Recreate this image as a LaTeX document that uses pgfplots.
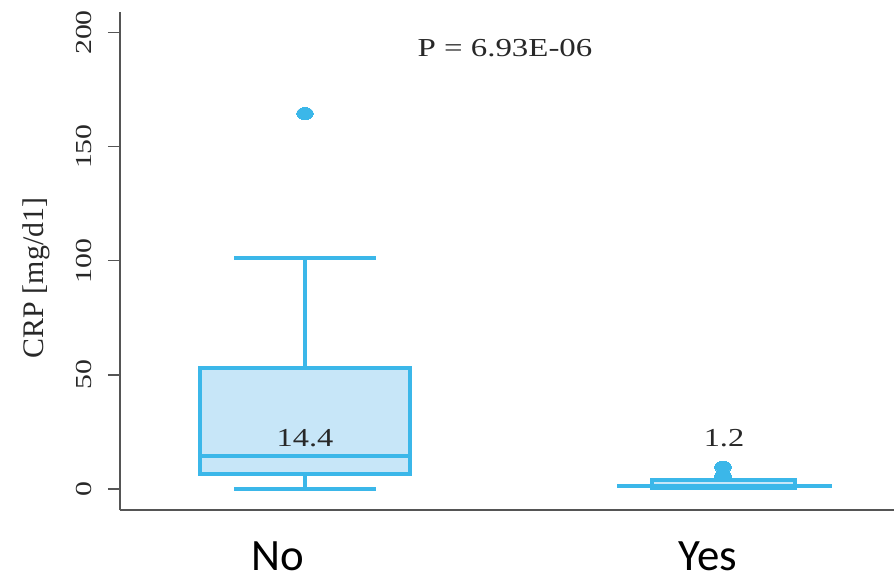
\documentclass[border=0pt]{standalone}
\usepackage{fontspec}
\setmainfont{Liberation Serif}
\newfontfamily\carlito{Carlito}
\usepackage{pgfplots}
\pgfplotsset{compat=1.18}
\definecolor{cblue}{RGB}{59,183,233}
\definecolor{cfill}{RGB}{199,230,248}
\definecolor{axgray}{RGB}{85,85,85}
\definecolor{txt}{RGB}{40,40,40}
\begin{document}
\begin{tikzpicture}
\begin{axis}[
  scale only axis, width=774bp, height=498bp,
  xmin=120, xmax=894, ymin=-9.2, ymax=209,
  clip=false,
  axis x line=bottom, axis y line=left,
  axis line style={-, draw=axgray, line width=1.3bp},
  ytick={0,50,100,150,200},
  xtick={278,708}, xticklabels={No,Yes},
  x tick style={draw=none},
  y tick style={draw=axgray, line width=1.3bp},
  tick align=outside, major tick length=12bp,
  /pgf/number format/assume math mode=true,
  yticklabel style={font=\fontsize{23}{23}\selectfont, text=txt, xshift=-13bp, yscale=1.3, rotate=90, anchor=south},
  xticklabel style={font=\carlito\fontsize{45}{45}\selectfont, text=black, inner sep=0pt, anchor=base, yshift=-48bp},
  ylabel={CRP [mg/d1]},
  every axis y label/.style={at={(axis description cs:-0.1085,0.466)}, rotate=90, anchor=center, font=\fontsize{30}{30}\selectfont, text=txt},
  every axis plot/.append style={line width=4bp, line join=miter},
]
\coordinate (bl) at (rel axis cs:0,0);
% No: whiskers, caps, box, median, outlier
\addplot[cblue, no marks] coordinates {(305,53.1) (305,101.3)};
\addplot[cblue, no marks] coordinates {(305,0) (305,6.4)};
\addplot[cblue, no marks] coordinates {(234,101.3) (376,101.3)};
\addplot[cblue, no marks] coordinates {(234,0) (376,0)};
\addplot[draw=cblue, fill=cfill, no marks] coordinates {(200,6.4) (410,6.4) (410,53.1) (200,53.1)} -- cycle;
\addplot[cblue, no marks] coordinates {(200,14.4) (410,14.4)};
\addplot[only marks, mark=*, mark size=6bp, mark options={fill=cblue, draw=cblue, line width=0pt, xscale=1.4}] coordinates {(305,164.5)};
% Yes: box, median, outliers
\addplot[draw=cblue, fill=cfill, no marks] coordinates {(652,0.3) (795,0.3) (795,3.9) (652,3.9)} -- cycle;
\addplot[cblue, no marks] coordinates {(617,1.2) (832,1.2)};
\addplot[only marks, mark=*, mark size=6bp, mark options={fill=cblue, draw=cblue, line width=0pt, xscale=1.4}] coordinates {(723,5.7) (723,9.6)};
\node[font=\fontsize{26}{26}\selectfont, text=txt, xscale=1.27] at (axis cs:505,193) {P = 6.93E-06};
\node[font=\fontsize{26}{26}\selectfont, text=txt, xscale=1.25] at (axis cs:305,22.4) {14.4};
\node[font=\fontsize{26}{26}\selectfont, text=txt, xscale=1.25] at (axis cs:724,22.4) {1.2};
\end{axis}
\pgfresetboundingbox
\path (bl) ++(-120bp,-66bp) rectangle ++(894bp,576bp);
\end{tikzpicture}
\end{document}
